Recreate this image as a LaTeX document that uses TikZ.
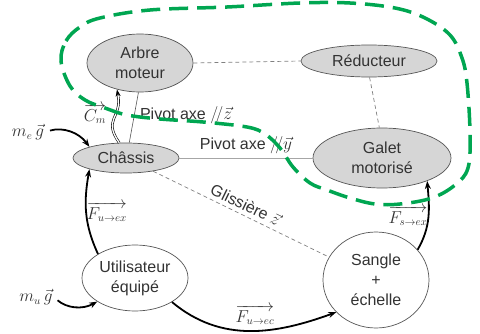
\documentclass[tikz,border=0pt]{standalone}
\usepackage{fontspec}
\setmainfont{Liberation Sans}
\usetikzlibrary{shapes.geometric, arrows.meta}
\definecolor{txt}{HTML}{333333}
\definecolor{edgegray}{HTML}{555555}
\definecolor{partfill}{HTML}{D6D6D6}
\definecolor{linkgray}{HTML}{808080}
\definecolor{loopgreen}{RGB}{0,166,81}

\begin{document}
\begin{tikzpicture}[x=1pt, y=1pt,
  every node/.style={font=\fontsize{16}{20}\selectfont, text=txt},
  part/.style={ellipse, draw=edgegray, line width=0.7pt, fill=partfill,
    inner sep=0pt, align=center},
  outside/.style={ellipse, draw=edgegray, line width=0.7pt, fill=white,
    inner sep=0pt, align=center},
  looselink/.style={draw=linkgray, line width=0.7pt, dash pattern=on 4pt off 3pt},
  pivotlink/.style={draw=linkgray!70, line width=0.8pt},
  solidlink/.style={draw=edgegray, line width=0.6pt},
  force/.style={-{Stealth[length=8pt,width=6pt]}, line width=1.8pt, black},
  torque/.style={line width=0.6pt, black},
  lbl/.style={inner sep=1pt}]

\useasboundingbox (0,0) rectangle (480,333);

% parts of the machine
\node[part, minimum width=106pt, minimum height=58pt] (arbre) at (140,270) {Arbre\\moteur};
\node[part, minimum width=136pt, minimum height=32pt] (reduc) at (369,272) {Réducteur};
\node[part, minimum width=106pt, minimum height=30pt] (chassis) at (126,175) {Châssis};
\node[part, minimum width=138pt, minimum height=60pt] (galet) at (382,175) {Galet\\motorisé};
% external bodies
\node[outside, minimum width=106pt, minimum height=66pt] (util) at (135,55) {Utilisateur\\équipé};
\node[outside, minimum width=106pt, minimum height=96pt] (sangle) at (376,53) {Sangle\\+\\échelle};

% links between parts
\draw[looselink] (arbre.east) -- (reduc.west);
\draw[looselink] (reduc.-88) -- (galet.95);
\draw[solidlink] (arbre.-93) -- (chassis.78);
\draw[pivotlink] (chassis.east) -- node[lbl, above=3pt, pos=0.5] {Pivot axe $/\!/\vec{y}$} (galet.west);
\draw[looselink] (chassis) -- node[lbl, sloped, above=3pt, pos=0.5] {Glissière $\vec{z}$} (sangle);
\node[lbl] (pivz) at (186,218) {Pivot axe $/\!/\vec{z}$};

% motor torque (double line)
\draw[torque, -{Stealth[length=7pt,width=5pt]}] (chassis.114) to[out=125, in=-80, looseness=1.4] (arbre.229);
\draw[torque, double, double distance=1.3pt, shorten >=6pt] (chassis.114) to[out=125, in=-80, looseness=1.4] (arbre.229);
\node[lbl] (cm) at (95,219) {$\overrightarrow{C_m}$};

% external actions
\node[lbl] (me) at (28,201) {$m_e\,\vec{g}$};
\node[lbl] (mu) at (36,36) {$m_u\,\vec{g}$};
\draw[force, shorten <=5pt] (me.east) to[bend left=35] (chassis.163);
\draw[force, shorten <=5pt] (mu.east) to[bend right=35] (util.212);
\draw[force] (util.147) to[out=115, in=-100] (chassis.197);
\node[lbl] (fuex) at (107,121) {$\overrightarrow{F_{u\to ex}}$};
\draw[force] (util.-33) to[out=-40, in=-160] (sangle.219);
\node[lbl] (fuec) at (255,18) {$\overrightarrow{F_{u\to ec}}$};
\draw[force] (sangle.36) to[out=60, in=-85] (galet.-27);
\node[lbl] (fsex) at (408,117) {$\overrightarrow{F_{s\to ex}}$};

% boundary of the isolated set
\draw[loopgreen, line width=3.5pt, dash pattern=on 19pt off 9pt]
  plot[smooth cycle, tension=0.6] coordinates {
    (61,272) (66,292) (80,306) (100,315) (150,323) (227,326) (300,330)
    (350,330) (395,325) (425,315) (450,298) (462,275) (467,250) (470,200)
    (468,165) (455,148) (432,135) (400,129) (375,129) (350,135) (327,143)
    (310,150) (293,166) (280,185) (265,199) (247,206) (203,211) (160,214)
    (127,218) (105,225) (85,233) (70,247)};
\end{tikzpicture}
\end{document}
